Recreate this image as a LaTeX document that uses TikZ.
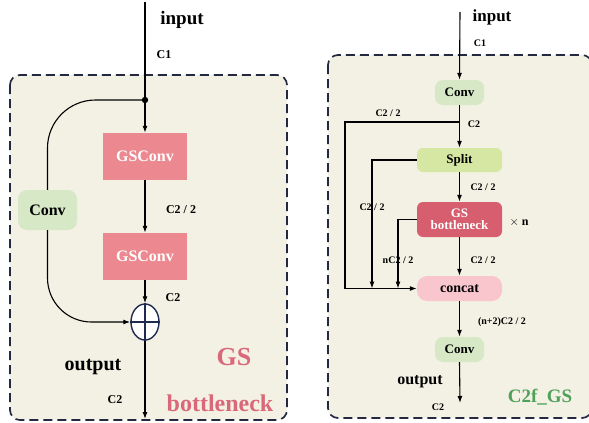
\documentclass[tikz,border=0pt]{standalone}
\usepackage{fontspec}
\setmainfont{Liberation Serif}
\usetikzlibrary{arrows.meta,shapes.geometric}
\definecolor{bgc}{HTML}{F3F1E3}
\definecolor{framec}{HTML}{232940}
\definecolor{gsconvc}{HTML}{EC8990}
\definecolor{convc}{HTML}{D6E8C6}
\definecolor{splitc}{HTML}{D6E7A3}
\definecolor{gsbc}{HTML}{D65E6E}
\definecolor{concatc}{HTML}{F8C6CC}
\definecolor{pinktext}{HTML}{D9687A}
\definecolor{greentext}{HTML}{4FA15A}
\definecolor{plusc}{HTML}{1F2A50}
\newcommand{\fs}[1]{\fontsize{#1}{#1}\selectfont}
\begin{document}
\begin{tikzpicture}[x=1pt,y=-1pt,font=\bfseries,
  arr/.style={-{Latex[length=7pt,width=5pt]},line width=1.1pt},
  ln/.style={line width=1.1pt},
  frame/.style={draw=framec,fill=bgc,line width=1.7pt,dash pattern=on 9pt off 5pt,rounded corners=10pt},
  gsconvbox/.style={fill=gsconvc,text=white,minimum width=84pt,minimum height=47pt,inner sep=0pt,font=\bfseries\fs{16}},
  convbig/.style={fill=convc,rounded corners=9pt,minimum width=59pt,minimum height=40pt,inner sep=0pt,font=\bfseries\fs{16}},
  convsmall/.style={fill=convc,rounded corners=8pt,minimum width=49pt,minimum height=25pt,inner sep=0pt,font=\bfseries\fs{13}},
  splitbox/.style={fill=splitc,rounded corners=6pt,minimum width=85pt,minimum height=24pt,inner sep=0pt,font=\bfseries\fs{13}},
  gsbbox/.style={fill=gsbc,text=white,rounded corners=6pt,minimum width=85pt,minimum height=35pt,inner sep=0pt,align=center,font=\bfseries\fs{13}},
  concatbox/.style={fill=concatc,rounded corners=10pt,minimum width=85pt,minimum height=25pt,inner sep=0pt,font=\bfseries\fs{14}},
  lbl/.style={inner sep=0pt,font=\bfseries\fs{12}},
  slbl/.style={inner sep=0pt,font=\bfseries\fs{10}}]
\useasboundingbox (0,0) rectangle (589,423);
% frames
\path[frame] (10,75) rectangle (287,420);
\path[frame] (328,55) rectangle (592,418);

% ---------- left panel ----------
\coordinate (inL) at (145,2);
\coordinate (dot) at (145,100);
\node[gsconvbox] (g1) at (145,156.5) {GSConv};
\node[gsconvbox] (g2) at (145,256.5) {GSConv};
\node[draw=plusc,line width=1.4pt,fill=white,ellipse,minimum width=28pt,minimum height=36pt,inner sep=0pt] (plus) at (145,322) {};
\draw[plusc,line width=1.4pt] (plus.north) -- (plus.south) (plus.west) -- (plus.east);
\node[convbig] (cv) at (47.5,210) {Conv};
\coordinate (outL) at (145,419);

\draw[ln] (inL) -- (dot);
\fill (dot) circle (3.2pt);
\draw[arr] (dot) -- (g1.north);
\draw[arr] (g1.south) -- (g2.north);
\draw[arr] (g2.south) -- (plus.north);
\draw[arr] (plus.south) -- (outL);
\draw[ln,rounded corners=48pt] (dot) -| (cv.north);
\draw[arr,rounded corners=44pt] (cv.south) |- (plus.west);

\node[inner sep=0pt,font=\bfseries\fs{19}] (tinL) at (182,20) {input};
\node[lbl] (c1L) at (164,55) {C1};
\node[lbl] (c22L) at (181,210) {C2 / 2};
\node[lbl] (c2L) at (173,298) {C2};
\node[inner sep=0pt,font=\bfseries\fs{20}] (toutL) at (93,367) {output};
\node[lbl] (c2oL) at (115,400) {C2};
\node[inner sep=0pt,text=pinktext,font=\bfseries\fs{26}] (gsT) at (234,357) {GS};
\node[inner sep=0pt,text=pinktext,font=\bfseries\fs{24}] (bnT) at (220,403) {bottleneck};

% ---------- right panel ----------
\coordinate (inR) at (460,12);
\node[convsmall] (cvA) at (459.5,92.5) {Conv};
\node[splitbox] (sp) at (459.5,160) {Split};
\node[gsbbox] (gsb) at (459.5,219.5) {GS\\[-1pt]bottleneck};
\node[concatbox] (cc) at (459.5,288.5) {concat};
\node[convsmall] (cvB) at (459.5,349.5) {Conv};
\coordinate (outR) at (460,403);
\coordinate (b1) at (460,122);
\coordinate (L1) at (345,122);
\coordinate (j2) at (372,288.5);
\coordinate (j3) at (398,288.5);

\draw[arr] (inR) -- (cvA.north);
\draw[arr] (cvA.south) -- (sp.north);
\draw[arr] (sp.south) -- (gsb.north);
\draw[arr] (gsb.south) -- (cc.north);
\draw[arr] (cc.south) -- (cvB.north);
\draw[arr] (cvB.south) -- (outR);
\draw[arr] (b1) -- (L1) |- (cc.west);
\draw[arr] (sp.west) -| (j2);
\draw[arr] (gsb.west) -| (j3);

\node[inner sep=0pt,font=\bfseries\fs{17}] (tinR) at (492,17) {input};
\node[slbl] (c1R) at (480,43) {C1};
\node[slbl] (c22a) at (388,113) {C2 / 2};
\node[slbl] (c2a) at (474,124) {C2};
\node[slbl] (c22b) at (483,187) {C2 / 2};
\node[slbl] (c22c) at (372,207) {C2 / 2};
\node[slbl,font=\bfseries\fs{12}] (xn) at (519,222) {$\times$ n};
\node[slbl] (nc22) at (398,260) {nC2 / 2};
\node[slbl] (c22d) at (483,260) {C2 / 2};
\node[slbl] (n2c) at (502,322) {(n+2)C2 / 2};
\node[inner sep=0pt,font=\bfseries\fs{16}] (toutR) at (420,382) {output};
\node[slbl] (c2oR) at (438,407) {C2};
\node[inner sep=0pt,text=greentext,font=\bfseries\fs{19}] (c2fT) at (540,397) {C2f\_GS};
\end{tikzpicture}
\end{document}
